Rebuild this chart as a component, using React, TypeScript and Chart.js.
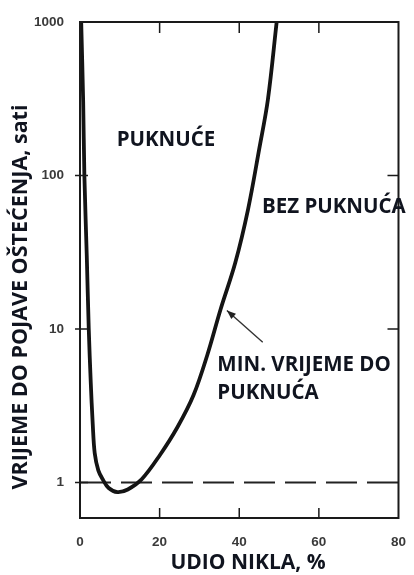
import React, { useEffect, useRef } from 'react';
import { Chart, registerables } from 'chart.js';

Chart.register(...registerables);

// Curve: minimum time to damage vs. nickel content
const nickelPct = [0.3, 0.8, 1.1, 1.7, 2.2, 2.7, 3.2, 3.7, 4.6, 5.7, 7.2, 9.4, 12.0, 15.5, 20.0, 24.5, 28.5, 32.0, 35.3, 39.0, 42.2, 45.0, 47.2, 49.4];
const hoursToDamage = [1000, 300, 100, 30, 10, 4.5, 2.4, 1.55, 1.2, 1.05, 0.92, 0.865, 0.9, 1.05, 1.5, 2.3, 3.7, 6.8, 13.4, 27, 60, 148, 313, 1000];

// Dashed reference line at 1 hour
const thresholdX = [0, 80];
const thresholdY = [1, 1];

const xTicks = [0, 20, 40, 60, 80];
const yTicks = [1, 10, 100, 1000];

const xTitle = 'UDIO NIKLA, %';
const yTitle = 'VRIJEME DO POJAVE OŠTEĆENJA, sati';

const regionLabels = ['PUKNUĆE', 'BEZ PUKNUĆA', 'MIN. VRIJEME DO', 'PUKNUĆA'];
const regionLabelX = [9.2, 45.7, 34.5, 34.5];
const regionLabelY = [170, 62, 5.8, 3.8];

const arrowFrom = { x: 45.9, y: 8.2 };
const arrowTo = { x: 36.9, y: 13.2 };

const FONT_FAMILY = '"Open Sans"';
const TEXT_FONT = `bold 20.5px ${FONT_FAMILY}`;
const TEXT_COLOR = '#10141f';
const TICK_FONT = { family: 'Liberation Sans', weight: 'bold' as const, size: 13.5 };

const framePlugin = {
  id: 'frameAndNotes',
  afterDatasetsDraw(chart: any) {
    const { ctx, chartArea, scales } = chart;
    const { left, right, top, bottom } = chartArea;
    const xs = scales.x;
    const ys = scales.y;
    ctx.save();
    ctx.strokeStyle = '#1a1a1a';
    ctx.lineWidth = 2;
    ctx.strokeRect(left, top, right - left, bottom - top);
    ctx.lineWidth = 1.5;
    ctx.beginPath();
    xTicks.slice(1, -1).forEach((v) => {
      const px = xs.getPixelForValue(v);
      ctx.moveTo(px, bottom);
      ctx.lineTo(px, bottom - 10);
      ctx.moveTo(px, top);
      ctx.lineTo(px, top + 11);
    });
    yTicks.slice(0, -1).forEach((v) => {
      const py = ys.getPixelForValue(v);
      ctx.moveTo(left - 5, py);
      ctx.lineTo(left + 8, py);
      if (v !== 1) {
        ctx.moveTo(right, py);
        ctx.lineTo(right - 11, py);
      }
    });
    ctx.stroke();

    // region labels
    ctx.fillStyle = TEXT_COLOR;
    ctx.font = TEXT_FONT;
    ctx.textAlign = 'left';
    ctx.textBaseline = 'middle';
    regionLabels.forEach((t, i) => {
      ctx.fillText(t, xs.getPixelForValue(regionLabelX[i]), ys.getPixelForValue(regionLabelY[i]));
    });

    // axis titles
    ctx.font = `bold 21px ${FONT_FAMILY}`;
    ctx.textAlign = 'center';
    ctx.fillText(xTitle, 248, 563);
    ctx.save();
    ctx.translate(21, 297);
    ctx.rotate(-Math.PI / 2);
    ctx.font = `bold 21.5px ${FONT_FAMILY}`;
    ctx.fillText(yTitle, 0, 0);
    ctx.restore();

    // arrow
    const x1 = xs.getPixelForValue(arrowFrom.x);
    const y1 = ys.getPixelForValue(arrowFrom.y);
    const x2 = xs.getPixelForValue(arrowTo.x);
    const y2 = ys.getPixelForValue(arrowTo.y);
    ctx.strokeStyle = '#333';
    ctx.lineWidth = 1.4;
    ctx.beginPath();
    ctx.moveTo(x1, y1);
    ctx.lineTo(x2, y2);
    ctx.stroke();
    const ang = Math.atan2(y2 - y1, x2 - x1);
    const L = 9;
    const W = 3.5;
    ctx.fillStyle = '#222';
    ctx.beginPath();
    ctx.moveTo(x2, y2);
    ctx.lineTo(x2 - L * Math.cos(ang) + W * Math.sin(ang), y2 - L * Math.sin(ang) - W * Math.cos(ang));
    ctx.lineTo(x2 - L * Math.cos(ang) - W * Math.sin(ang), y2 - L * Math.sin(ang) + W * Math.cos(ang));
    ctx.closePath();
    ctx.fill();
    ctx.restore();
  },
};

export default function App() {
  const ref = useRef<HTMLCanvasElement>(null);
  useEffect(() => {
    const canvas = ref.current;
    if (!canvas) return;
    const chart = new Chart(canvas, {
      type: 'scatter',
      data: {
        datasets: [
          {
            data: nickelPct.map((x, i) => ({ x, y: hoursToDamage[i] })),
            showLine: true,
            borderColor: '#141414',
            borderWidth: 3.8,
            pointRadius: 0,
            tension: 0.35,
            fill: false,
          },
          {
            data: thresholdX.map((x, i) => ({ x, y: thresholdY[i] })),
            showLine: true,
            borderColor: '#222',
            borderWidth: 2,
            borderDash: [31, 10],
            pointRadius: 0,
            fill: false,
          },
        ],
      },
      options: {
        responsive: false,
        animation: false,
        devicePixelRatio: 1,
        layout: { padding: { top: 22, right: 4, left: 0, bottom: 0 } },
        plugins: { legend: { display: false }, tooltip: { enabled: false } },
        scales: {
          x: {
            type: 'linear',
            min: 0,
            max: 80,
            afterBuildTicks: (s: any) => {
              s.ticks = xTicks.map((v) => ({ value: v }));
            },
            afterFit: (s: any) => {
              s.height = 57;
            },
            grid: { display: false },
            border: { display: false },
            ticks: {
              padding: 8,
              autoSkip: false,
              maxRotation: 0,
              color: '#3a3a3a',
              font: TICK_FONT,
              callback: (v: any) => String(v),
            },
          },
          y: {
            type: 'logarithmic',
            min: 0.587,
            max: 1000,
            afterBuildTicks: (s: any) => {
              s.ticks = yTicks.map((v) => ({ value: v }));
            },
            afterFit: (s: any) => {
              s.width = 80;
            },
            grid: { display: false },
            border: { display: false },
            ticks: {
              padding: 8,
              autoSkip: false,
              color: '#3a3a3a',
              font: TICK_FONT,
              callback: (v: any) => String(v),
            },
          },
        },
      },
      plugins: [framePlugin],
    } as any);
    return () => chart.destroy();
  }, []);
  return (
    <div style={{ position: 'absolute', left: 0, top: 0, width: 414, height: 575, background: '#fff' }}>
      <canvas ref={ref} width={414} height={575} />
    </div>
  );
}
